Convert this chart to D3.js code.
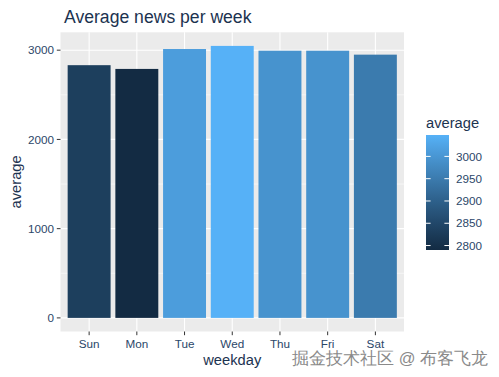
<!DOCTYPE html>
<html>
<head>
<meta charset="utf-8">
<script src="https://cdn.jsdelivr.net/npm/d3@7"></script>
<style>
  body { margin: 0; background: #fff; }
  text { font-family: "Liberation Sans", Arial, sans-serif; }
</style>
</head>
<body>
<svg id="chart" width="499" height="377"></svg>
<script>
// data
var weekdays = ["Sun", "Mon", "Tue", "Wed", "Thu", "Fri", "Sat"]
var averages = [2832, 2790, 3013, 3048, 2994, 2994, 2950]
var yTicks = [0, 1000, 2000, 3000]
var yMinor = [500, 1500, 2500]
var legendTicks = [2800, 2850, 2900, 2950, 3000]

var data = weekdays.map((d, i) => ({ weekday: d, average: averages[i] }))

var svg = d3.select("#chart")
var panel = { left: 60.5, right: 404, top: 32.3, bottom: 331.5 }
var titleColor = "#1c3350"
var textColor = "#2b4769"

// ggplot-like expansion
var yMax = d3.max(averages)
var x = d3.scaleBand()
    .domain(weekdays)
    .range([panel.left, panel.right])
    .paddingInner(0.1)
    .paddingOuter(0.15)

var y = d3.scaleLinear()
    .domain([-0.05 * yMax, yMax * 1.05])
    .range([panel.bottom, panel.top])

var lo = d3.min(averages), hi = d3.max(averages)
var color = d3.scaleLinear()
    .domain([lo, hi])
    .range(["#132B43", "#56B1F7"])
    .interpolate(d3.interpolateLab)

// panel background
svg.append("rect")
    .attr("x", panel.left).attr("y", panel.top)
    .attr("width", panel.right - panel.left)
    .attr("height", panel.bottom - panel.top)
    .attr("fill", "#EBEBEB")

// grid
svg.append("g").selectAll("line").data(yMinor).join("line")
    .attr("x1", panel.left).attr("x2", panel.right)
    .attr("y1", d => y(d)).attr("y2", d => y(d))
    .attr("stroke", "#fff").attr("stroke-width", 0.55)

svg.append("g").selectAll("line").data(yTicks).join("line")
    .attr("x1", panel.left).attr("x2", panel.right)
    .attr("y1", d => y(d)).attr("y2", d => y(d))
    .attr("stroke", "#fff").attr("stroke-width", 1.1)

svg.append("g").selectAll("line").data(weekdays).join("line")
    .attr("x1", d => x(d) + x.bandwidth() / 2).attr("x2", d => x(d) + x.bandwidth() / 2)
    .attr("y1", panel.top).attr("y2", panel.bottom)
    .attr("stroke", "#fff").attr("stroke-width", 1.1)

// bars
svg.append("g").selectAll("rect").data(data).join("rect")
    .attr("x", d => x(d.weekday))
    .attr("width", x.bandwidth())
    .attr("y", d => y(d.average))
    .attr("height", d => y(0) - y(d.average))
    .attr("fill", d => color(d.average))

// y axis
var yAxis = svg.append("g")
yAxis.selectAll("line").data(yTicks).join("line")
    .attr("x1", panel.left - 3.7).attr("x2", panel.left)
    .attr("y1", d => y(d)).attr("y2", d => y(d))
    .attr("stroke", "#333").attr("stroke-width", 1)
yAxis.selectAll("text").data(yTicks).join("text")
    .attr("x", panel.left - 6.5)
    .attr("y", d => y(d) + 4.2)
    .attr("text-anchor", "end")
    .attr("font-size", "11.7px")
    .attr("fill", textColor)
    .text(d => d)

// x axis
var xAxis = svg.append("g")
xAxis.selectAll("line").data(weekdays).join("line")
    .attr("x1", d => x(d) + x.bandwidth() / 2).attr("x2", d => x(d) + x.bandwidth() / 2)
    .attr("y1", panel.bottom).attr("y2", panel.bottom + 3.7)
    .attr("stroke", "#333").attr("stroke-width", 1)
xAxis.selectAll("text").data(weekdays).join("text")
    .attr("x", d => x(d) + x.bandwidth() / 2)
    .attr("y", 348)
    .attr("text-anchor", "middle")
    .attr("font-size", "11.7px")
    .attr("fill", textColor)
    .text(d => d)

// axis titles
svg.append("text")
    .attr("x", (panel.left + panel.right) / 2).attr("y", 365)
    .attr("text-anchor", "middle")
    .attr("font-size", "14.7px")
    .attr("fill", titleColor)
    .text("weekday")

svg.append("text")
    .attr("transform", `translate(20.5,${(panel.top + panel.bottom) / 2}) rotate(-90)`)
    .attr("text-anchor", "middle")
    .attr("font-size", "14.7px")
    .attr("fill", titleColor)
    .text("average")

// title
svg.append("text")
    .attr("x", 64).attr("y", 22.5)
    .attr("font-size", "17.6px")
    .attr("fill", titleColor)
    .text("Average news per week")

// legend
var bar = { x: 426, w: 23, top: 135, bottom: 250 }
var grad = svg.append("defs").append("linearGradient")
    .attr("id", "fillgrad")
    .attr("x1", 0).attr("y1", 1).attr("x2", 0).attr("y2", 0)
d3.range(0, 1.0001, 0.05).forEach(t => {
    grad.append("stop")
        .attr("offset", t)
        .attr("stop-color", color(lo + t * (hi - lo)))
})

svg.append("text")
    .attr("x", bar.x).attr("y", 127.5)
    .attr("font-size", "14.7px")
    .attr("fill", titleColor)
    .text("average")

svg.append("rect")
    .attr("x", bar.x).attr("y", bar.top)
    .attr("width", bar.w).attr("height", bar.bottom - bar.top)
    .attr("fill", "url(#fillgrad)")

var ly = d3.scaleLinear().domain([lo, hi]).range([bar.bottom, bar.top])
var lg = svg.append("g")
lg.selectAll("line.l").data(legendTicks).join("line")
    .attr("class", "l")
    .attr("x1", bar.x).attr("x2", bar.x + 4.6)
    .attr("y1", d => ly(d)).attr("y2", d => ly(d))
    .attr("stroke", "#fff").attr("stroke-width", 1)
lg.selectAll("line.r").data(legendTicks).join("line")
    .attr("class", "r")
    .attr("x1", bar.x + bar.w - 4.6).attr("x2", bar.x + bar.w)
    .attr("y1", d => ly(d)).attr("y2", d => ly(d))
    .attr("stroke", "#fff").attr("stroke-width", 1)
lg.selectAll("text").data(legendTicks).join("text")
    .attr("x", 456)
    .attr("y", d => ly(d) + 4.2)
    .attr("font-size", "11.7px")
    .attr("fill", textColor)
    .text(d => d)

// watermark
svg.append("text")
    .attr("x", 488).attr("y", 364)
    .attr("text-anchor", "end")
    .attr("font-family", "'Noto Sans CJK SC', sans-serif")
    .attr("font-size", "16.5px")
    .attr("fill", "#8a8a8a")
    .attr("stroke", "#fff")
    .attr("stroke-width", 0.6)
    .attr("paint-order", "stroke")
    .text("掘金技术社区 @ 布客飞龙")
</script>
</body>
</html>
